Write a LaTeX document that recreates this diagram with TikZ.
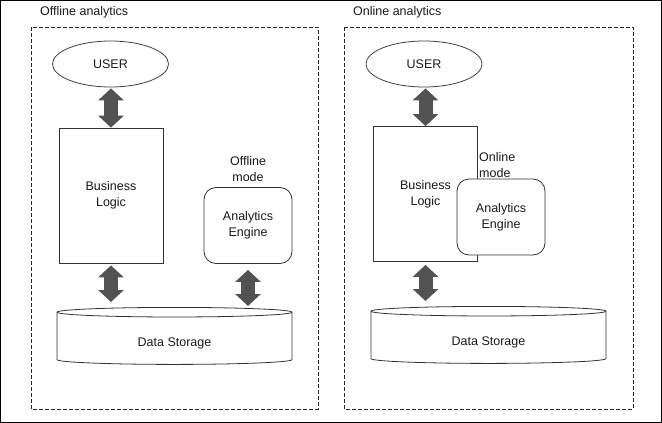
\documentclass[tikz,border=0pt]{standalone}
\usepackage{fontspec}
\setmainfont{Liberation Sans}
\usetikzlibrary{shapes.geometric, arrows.meta, positioning, calc}

\begin{document}
\begin{tikzpicture}[x=1pt, y=-1pt,
    every node/.style={font=\fontsize{12.5}{16}\selectfont, text=black!90},
    panel/.style={draw=black!85, line width=0.9pt, dash pattern=on 4pt off 2pt},
    userbox/.style={draw=black!75, ellipse, line width=0.8pt, minimum width=116pt, minimum height=46pt, inner sep=0pt},
    logicbox/.style={draw=black!80, rectangle, line width=0.8pt, fill=white, align=center, minimum width=104pt, minimum height=135pt},
    enginebox/.style={draw=black!80, rectangle, rounded corners=12pt, line width=0.8pt, fill=white, align=center, minimum width=88pt, minimum height=76pt},
    storebox/.style={draw=black!80, cylinder, shape border rotate=90, aspect=0.13, line width=0.8pt, minimum width=235pt, minimum height=57pt, inner sep=0pt},
    dblarrow/.style={draw=black!68, line width=14pt, {Triangle[width=25pt, length=12pt]}-{Triangle[width=25pt, length=12pt]}}
]
    \useasboundingbox (0,0) rectangle (662,423);
    \draw[black, line width=1pt] (0.5,0.5) rectangle (661.5,422.5);

    % Panels
    \draw[panel] (31,27) rectangle (318,409);
    \draw[panel] (344,27) rectangle (633,409);
    \node (offtitle) [anchor=west, inner sep=0pt] at (40,12) {Offline analytics};
    \node (ontitle) [anchor=west, inner sep=0pt] at (353,12) {Online analytics};

    % Offline analytics
    \node (user1) [userbox] at (110.5,64) {USER};
    \node (logic1) [logicbox] at (111,195.5) {Business\\Logic};
    \node (engine1) [enginebox] at (248,225.5) {Analytics\\Engine};
    \node (mode1) [align=center, inner sep=0pt] at (248,169) {Offline\\mode};
    \node (store1) [storebox] at (174.5,338.5) {\raisebox{-4pt}[\height][0pt]{Data Storage}};

    % Online analytics
    \node (user2) [userbox] at (424,64) {USER};
    \node (logic2) [logicbox] at (425.5,194) {Business\\Logic};
    \node (engine2) [enginebox] at (501,217) {Analytics\\Engine};
    \node (mode2) [anchor=west, align=left, inner sep=1pt] at (478,165) {Online\\mode};
    \node (store2) [storebox] at (488.5,337.5) {\raisebox{-4pt}[\height][0pt]{Data Storage}};

    % Flows
    \draw [dblarrow, shorten <=1pt] (user1.south -| logic1.north) -- (logic1.north);
    \draw [dblarrow, shorten <=2pt, shorten >=5pt] (logic1.south) -- (logic1.south |- store1.north);
    \draw [dblarrow, shorten <=6pt, shorten >=1pt] (engine1.south) -- (engine1.south |- store1.north);
    \draw [dblarrow, shorten <=1pt] (user2.south -| logic2.north) -- (logic2.north);
    \draw [dblarrow, shorten <=3pt, shorten >=5pt] (logic2.south) -- (logic2.south |- store2.north);

\end{tikzpicture}
\end{document}
